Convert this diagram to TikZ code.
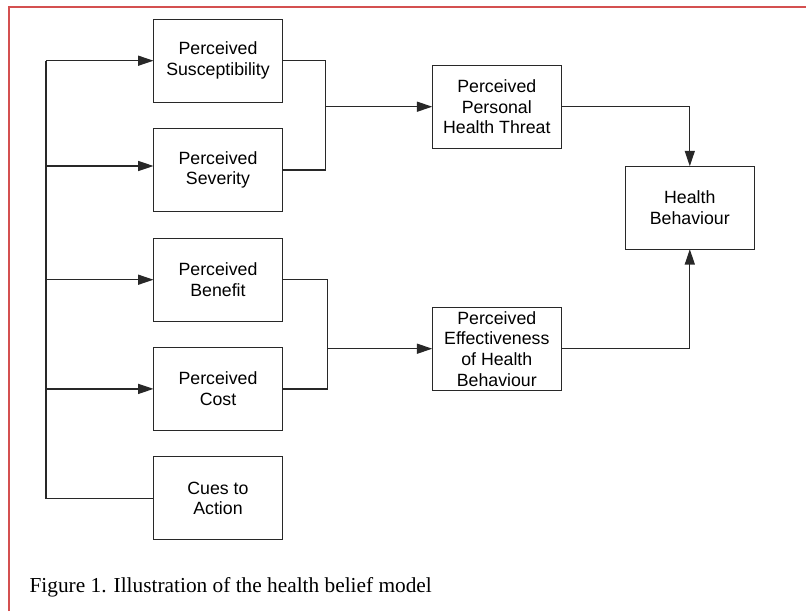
\documentclass[tikz,border=0pt]{standalone}
\usepackage{fontspec}
\setmainfont{Liberation Serif}
\newfontfamily\arialf{Liberation Sans}
\usetikzlibrary{arrows.meta}
\definecolor{framered}{RGB}{212,80,80}
\definecolor{linegray}{RGB}{40,40,40}
\tikzset{
  box/.style={draw=linegray, line width=0.9pt, minimum width=96.75pt, minimum height=62.25pt,
    inner sep=0pt, outer sep=0pt, align=center, font=\arialf\fontsize{13.3}{15.5}\selectfont},
  conn/.style={draw=linegray, line width=0.9pt},
  arr/.style={conn, -{Triangle[length=11.5pt, width=7.5pt]}}
}
\begin{document}
\begin{tikzpicture}[x=0.75pt,y=-0.75pt]
\useasboundingbox (0,0) rectangle (806,611);
\fill[white] (0,0) rectangle (806,611);
% frame
\draw[framered, line width=1.5pt] (8.7,611) -- (8.7,6.7) -- (806,6.7);
% boxes
\node[box] (susc) at (218,60.7) {Perceived\\Susceptibility};
\node[box] (sev) at (218,170) {Perceived\\Severity};
\node[box] (ben) at (218,279.7) {Perceived\\Benefit};
\node[box] (cost) at (218,388.9) {Perceived\\Cost};
\node[box] (cues) at (218,498.3) {Cues to\\Action};
\node[box] (ppht) at (496.8,106.7) {Perceived\\Personal\\Health Threat};
\node[box] (pehb) at (496.8,348.7) {Perceived\\Effectiveness\\of Health\\Behaviour};
\node[box] (hb) at (689.8,207.7) {Health\\Behaviour};
% trunk
\coordinate (tr) at (46,0);
\draw[conn] (cues.west) -- (tr |- cues.west) -- (tr |- susc.west);
\draw[arr] (tr |- susc.west) -- (susc.west);
\draw[arr] ([yshift=3pt]tr |- sev.west) -- ([yshift=3pt]sev.west);
\draw[arr] (tr |- ben.west) -- (ben.west);
\draw[arr] (tr |- cost.west) -- (cost.west);
% top join
\coordinate (jt) at (325.3,0);
\draw[conn] (susc.east) -- (jt |- susc.east) -- (jt |- sev.east) -- (sev.east);
\draw[arr] (jt |- ppht.west) -- (ppht.west);
% bottom join
\coordinate (jb) at (327.3,0);
\draw[conn] (ben.east) -- (jb |- ben.east) -- (jb |- cost.east) -- (cost.east);
\draw[arr] (jb |- pehb.west) -- (pehb.west);
% to health behaviour
\draw[arr] (ppht.east) -| (hb.north);
\draw[arr] (pehb.east) -| (hb.south);
% caption
\node[anchor=base west, inner sep=0pt, font=\fontsize{16}{19}\selectfont] (cap) at (29.3,592) {Figure 1. Illustration of the health belief model};
\end{tikzpicture}
\end{document}
